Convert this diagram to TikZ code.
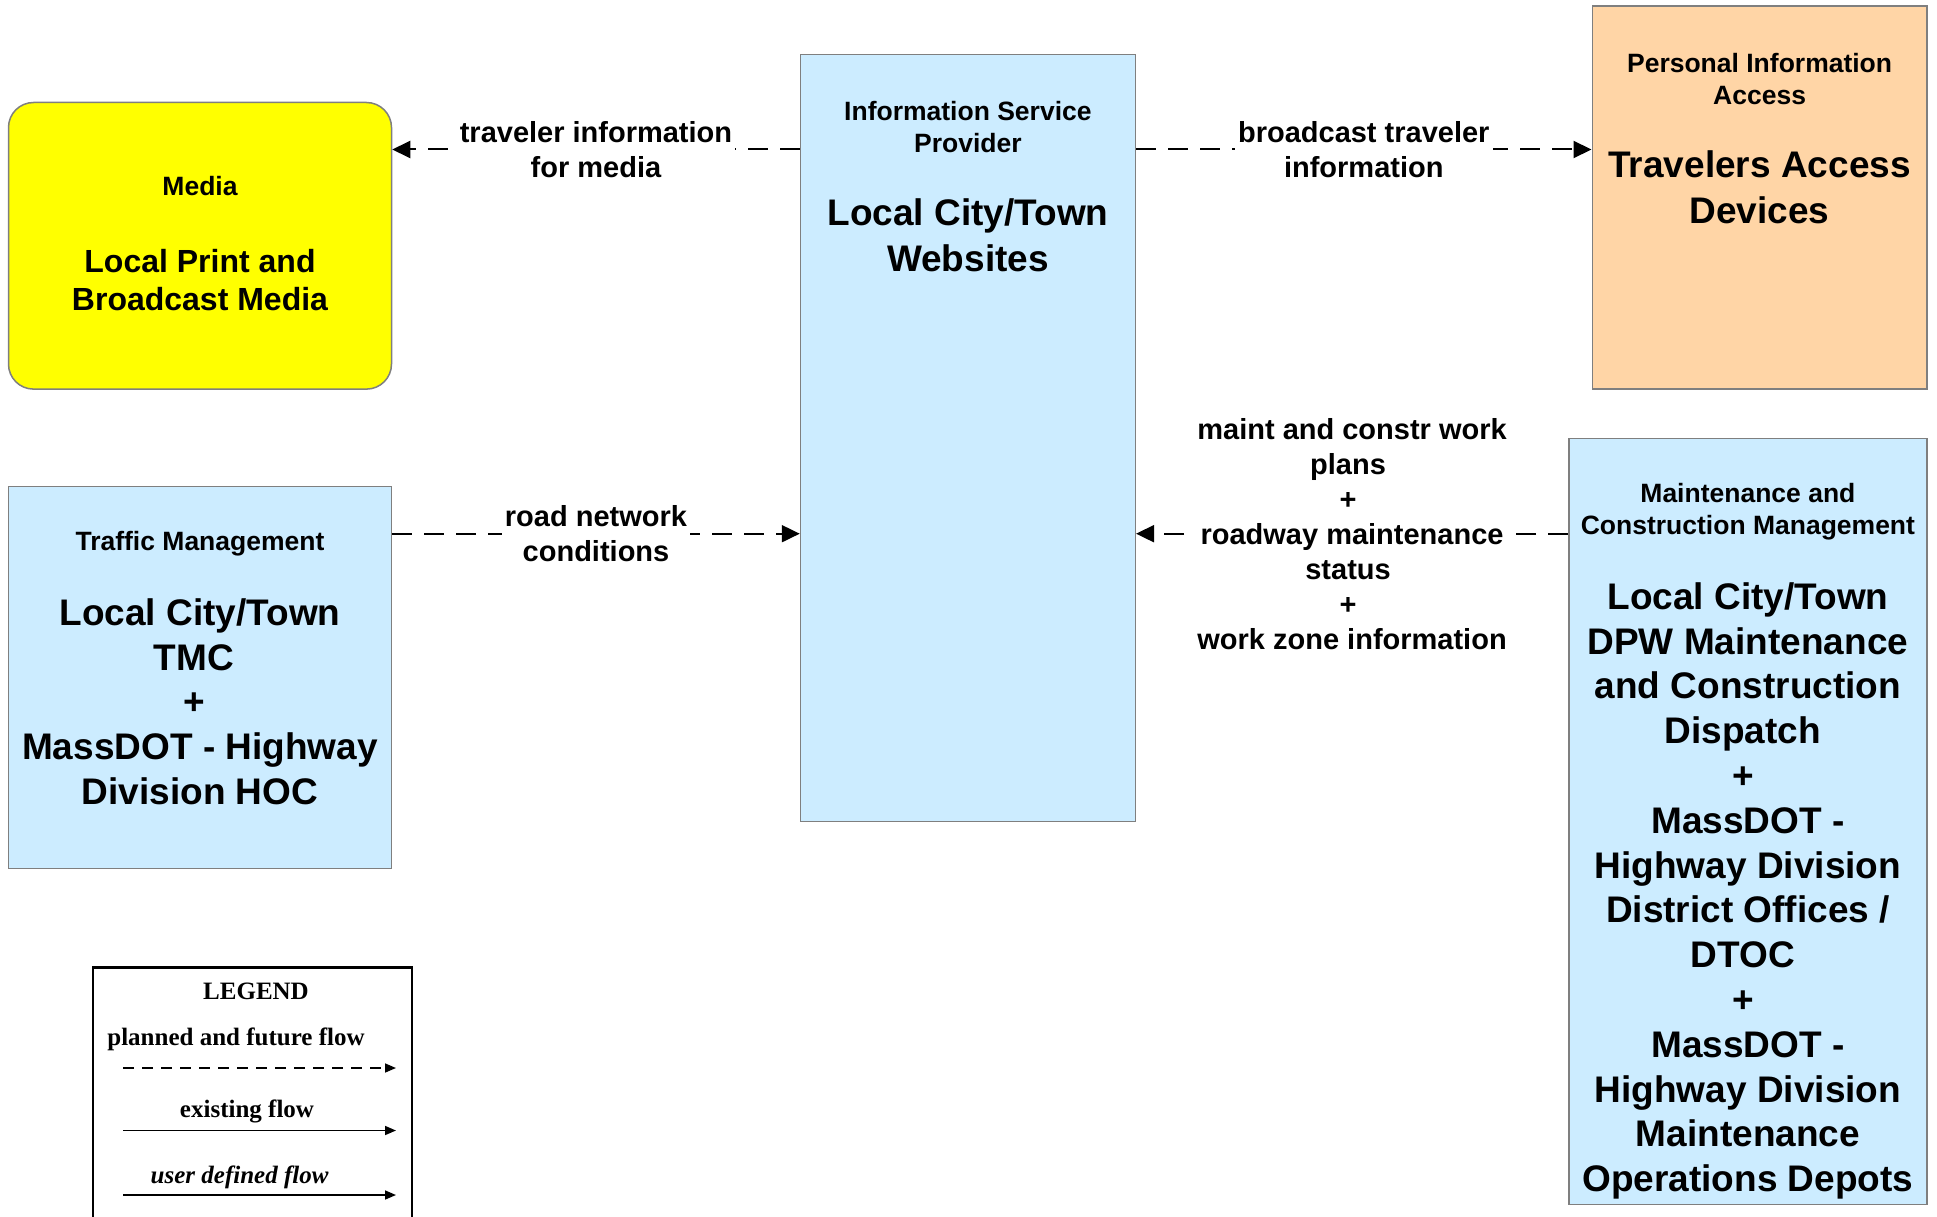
\documentclass[tikz,border=0pt]{standalone}
\usepackage{fontspec}
\setmainfont{Liberation Sans}
\newfontfamily\legfont{Liberation Serif}
\usetikzlibrary{arrows.meta}
\definecolor{boxblue}{HTML}{CCECFF}
\definecolor{peach}{HTML}{FFD5A6}
\definecolor{edgegray}{HTML}{7F7F7F}
\definecolor{pureyellow}{HTML}{FFFF00}
\newcommand{\trail}[1]{\hbox to #1{}}
\begin{document}
\begin{tikzpicture}[x=1pt,y=-1pt,
  box/.style={draw=edgegray,line width=1.5pt,inner sep=0pt},
  smalltxt/.style={font=\bfseries\fontsize{26.5}{32}\selectfont,align=center,inner sep=0pt},
  bigtxt/.style={font=\bfseries\fontsize{37}{44.8}\selectfont,align=center,inner sep=0pt},
  flowlbl/.style={font=\bfseries\fontsize{29}{35}\selectfont,align=center,fill=white,inner sep=3pt},
  flow/.style={line width=2pt,dash pattern=on 20pt off 12pt,-{Triangle[length=18pt,width=17pt]}},
  legtxt/.style={font=\legfont\bfseries\fontsize{25}{30}\selectfont,inner sep=0pt},
  legarrow/.style={line width=1.6pt,-{Triangle[length=11pt,width=9pt]}}]
\path[use as bounding box] (0,0) rectangle (1937,1217);
\clip (0,0) rectangle (1937,1217);

% boxes
\node[box,fill=pureyellow,rounded corners=25pt,minimum width=383pt,minimum height=286.6pt] (media) at (200,245.8) {};
\node[box,fill=boxblue,minimum width=334.8pt,minimum height=767.1pt] (isp) at (967.9,438) {};
\node[box,fill=peach,minimum width=334.7pt,minimum height=382.8pt] (trav) at (1759.6,197.6) {};
\node[box,fill=boxblue,minimum width=383pt,minimum height=381.7pt] (tm) at (200,677.5) {};
\node[box,fill=boxblue,minimum width=358.2pt,minimum height=765.9pt] (mcm) at (1747.9,821.5) {};

% box texts
\node[smalltxt] (mediat) at (200,186.5) {Media};
\node[bigtxt,font=\bfseries\fontsize{32}{38.4}\selectfont] (mediab) at (200,279.8) {Local Print and\\Broadcast Media};

\node[smalltxt] (ispt) at (967.9,127.2) {Information Service\\Provider};
\node[bigtxt,font=\bfseries\fontsize{37}{45.7}\selectfont] (ispb) at (967.9,235.3) {Local City/Town\\Websites};

\node[smalltxt] (travt) at (1759.6,79) {Personal Information\\Access};
\node[bigtxt,font=\bfseries\fontsize{37}{45.7}\selectfont] (travb) at (1759.6,187) {Travelers Access\\Devices};

\node[smalltxt] (tmt) at (200,543.5) {Traffic Management};
\node[bigtxt] (tmb) at (200,701.6) {Local City/Town\\TMC\trail{12pt}\\+\trail{12pt}\\MassDOT - Highway\\Division HOC};

\node[smalltxt] (mcmt) at (1747.9,511.5) {Maintenance and\\Construction Management};
\node[bigtxt] (mcmb) at (1747.9,891) {Local City/Town\\DPW Maintenance\\and Construction\\Dispatch\trail{10pt}\\+\trail{10pt}\\MassDOT -\\Highway Division\\District Offices /\\DTOC\trail{10pt}\\+\trail{10pt}\\MassDOT -\\Highway Division\\Maintenance\\Operations Depots};

% flows
\coordinate (ytop) at (0,149.5);
\coordinate (ymid) at (0,533.7);
\draw[flow] (isp.west |- ytop) -- node[flowlbl] (f1) {traveler information\\for media} (media.east |- ytop);
\draw[flow] (isp.east |- ytop) -- node[flowlbl] (f2) {broadcast traveler\\information} (trav.west |- ytop);
\draw[flow] (tm.east |- ymid) -- node[flowlbl] (f3) {road network\\conditions} (isp.west |- ymid);
\draw[flow] (mcm.west |- ymid) -- node[flowlbl] (f4) {maint and constr work\\plans\trail{8pt}\\+\trail{8pt}\\roadway maintenance\\status\trail{8pt}\\+\trail{8pt}\\work zone information} (isp.east |- ymid);

% legend
\node[draw=black,line width=2.5pt,minimum width=319pt,minimum height=300pt,anchor=north west,inner sep=0pt] (legend) at (91.5,966) {};
\node[legtxt] (legt) at (256,991.5) {LEGEND};
\node[legtxt] (leg1) at (236,1039) {planned and future flow};
\node[legtxt] (leg2) at (247,1111.5) {existing flow};
\node[legtxt,font=\legfont\bfseries\itshape\fontsize{25}{30}\selectfont] (leg3) at (239.6,1177) {user defined flow};
\coordinate (l1s) at (123,1068);
\coordinate (l1e) at (396,1068);
\coordinate (l2s) at (123,1130.5);
\coordinate (l2e) at (396,1130.5);
\coordinate (l3s) at (123,1195);
\coordinate (l3e) at (396,1195);
\draw[legarrow,dash pattern=on 11pt off 8pt] (l1s) -- (l1e);
\draw[legarrow] (l2s) -- (l2e);
\draw[legarrow] (l3s) -- (l3e);
\end{tikzpicture}
\end{document}
